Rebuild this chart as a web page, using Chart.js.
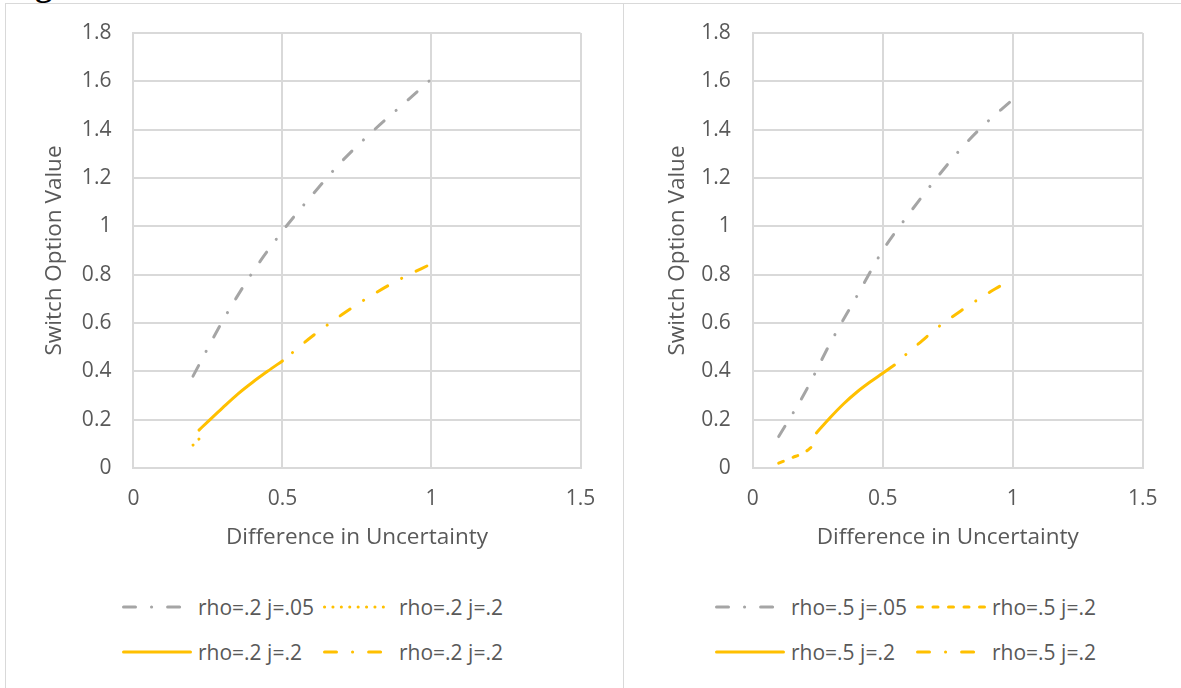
<!DOCTYPE html>
<html>
<head>
<meta charset="utf-8">
<script src="https://cdn.jsdelivr.net/npm/chart.js@4.4.0/dist/chart.umd.min.js"></script>
<style>
html,body{margin:0;padding:0;background:#fff;width:1181px;height:688px;overflow:hidden;position:relative;font-family:'Open Sans',sans-serif;}
.panel{position:absolute;top:3px;height:720px;border:1px solid #d9d9d9;box-sizing:border-box;}
#p1{left:5px;width:619px;}
#p2{left:623px;width:620px;}
canvas{position:absolute;}
#c1{left:6px;top:4px;}
#c2{left:625px;top:4px;}
.leg{position:absolute;display:flex;align-items:center;height:30px;color:#595959;font-size:21px;white-space:nowrap;}
.leg svg{display:block;margin-right:6px;}
#cap{position:absolute;left:5px;top:0;width:200px;height:3px;overflow:hidden;}
#cap span{position:absolute;left:0;top:-32px;font:bold 34px/34px 'Liberation Serif',serif;color:#000;}
</style>
</head>
<body>
<div id="cap"><span>Figure</span></div>
<div class="panel" id="p1"></div>
<div class="panel" id="p2"></div>
<canvas id="c1" width="616" height="580"></canvas>
<canvas id="c2" width="555" height="580"></canvas>
<div id="legends"></div>
<script>
// ---- tick labels & titles ----
const xTickLabels = ['0', '0.5', '1', '1.5'];
const yTickLabels = ['0', '0.2', '0.4', '0.6', '0.8', '1', '1.2', '1.4', '1.6', '1.8'];
const xTitle = 'Difference in Uncertainty';
const yTitle = 'Switch Option Value';

// ---- left chart (rho = .2) ----
const leftLabels = ['rho=.2 j=.05', 'rho=.2 j=.2', 'rho=.2 j=.2', 'rho=.2 j=.2'];
const leftGrayX   = [0.2, 0.3, 0.4, 0.5, 0.6, 0.7, 0.8, 0.9, 1.0];
const leftGrayY   = [0.38, 0.61, 0.81, 0.98, 1.13, 1.27, 1.39, 1.50, 1.61];
const leftDotX    = [0.2, 0.22];
const leftDotY    = [0.095, 0.12];
const leftSolidX  = [0.22, 0.25, 0.3, 0.35, 0.4, 0.45, 0.5];
const leftSolidY  = [0.157, 0.192, 0.25, 0.306, 0.355, 0.40, 0.443];
const leftDashDotX = [0.5, 0.6, 0.7, 0.8, 0.9, 1.0];
const leftDashDotY = [0.443, 0.545, 0.635, 0.715, 0.785, 0.845];

// ---- right chart (rho = .5) ----
const rightLabels = ['rho=.5 j=.05', 'rho=.5 j=.2', 'rho=.5 j=.2', 'rho=.5 j=.2'];
const rightGrayX   = [0.1, 0.2, 0.3, 0.4, 0.5, 0.6, 0.7, 0.8, 0.9, 0.99];
const rightGrayY   = [0.13, 0.31, 0.52, 0.71, 0.90, 1.05, 1.19, 1.32, 1.43, 1.515];
const rightDashX   = [0.1, 0.15, 0.2, 0.23];
const rightDashY   = [0.02, 0.042, 0.065, 0.09];
const rightSolidX  = [0.245, 0.3, 0.35, 0.4, 0.45, 0.5, 0.545];
const rightSolidY  = [0.145, 0.211, 0.266, 0.3135, 0.3545, 0.392, 0.426];
const rightDashDotX = [0.545, 0.6, 0.65, 0.7, 0.8, 0.9, 0.95];
const rightDashDotY = [0.426, 0.48, 0.525, 0.572, 0.65, 0.72, 0.752];

// ---- styles ----
const GRAY = '#a5a5a5', GOLD = '#ffc000', TXT = '#595959', GRID = '#d9d9d9';
const DASHDOT = [12, 16, 0.1, 16];
const DOTTED = [0.1, 8.3];
const DASHED = [5, 10.5];

function pts(xs, ys) { return xs.map((x, i) => ({ x: x, y: ys[i] })); }
function ds(label, xs, ys, color, dash, offset) {
  return {
    label: label, data: pts(xs, ys), showLine: true, borderColor: color, backgroundColor: color,
    borderWidth: 3, borderDash: dash, borderDashOffset: offset || 0, borderCapStyle: 'round', borderJoinStyle: 'round',
    pointRadius: 0, fill: false, cubicInterpolationMode: 'monotone'
  };
}

function makeChart(id, datasets, cfg) {
  const font = (s) => ({ family: 'Open Sans', size: s });
  return new Chart(document.getElementById(id), {
    type: 'scatter',
    data: { datasets: datasets },
    options: {
      responsive: false, animation: false, events: [],
      layout: { padding: { top: 29, right: cfg.padRight, bottom: 0, left: 0 } },
      plugins: { legend: { display: false }, tooltip: { enabled: false } },
      scales: {
        x: {
          type: 'linear', min: 0, max: 1.5,
          ticks: { stepSize: 0.5, padding: 0, color: TXT, font: font(21), callback: (v, i) => xTickLabels[i] },
          grid: { color: GRID, lineWidth: 2, drawTicks: true, tickLength: 18, tickColor: 'rgba(0,0,0,0)' },
          border: { color: GRID, width: 2 },
          title: { display: true, text: xTitle, color: TXT, font: font(22.5), padding: { top: 0, bottom: 32.5 } },
          afterFit: (s) => { s.height = 116; }
        },
        y: {
          type: 'linear', min: 0, max: 1.8,
          ticks: { stepSize: 0.2, padding: 0, color: TXT, font: font(21), callback: (v, i) => yTickLabels[i] },
          grid: { color: GRID, lineWidth: 2, drawTicks: true, tickLength: 22, tickColor: 'rgba(0,0,0,0)' },
          border: { color: GRID, width: 2 },
          title: { display: true, text: yTitle, color: TXT, font: font(22.5), padding: { top: cfg.yTitlePad, bottom: 0 } },
          afterFit: (s) => { s.width = cfg.yWidth; }
        }
      }
    }
  });
}

const leftChart = makeChart('c1', [
  ds(leftLabels[0], leftGrayX, leftGrayY, GRAY, DASHDOT),
  ds(leftLabels[1], leftDotX, leftDotY, GOLD, DOTTED),
  ds(leftLabels[2], leftSolidX, leftSolidY, GOLD, []),
  ds(leftLabels[3], leftDashDotX, leftDashDotY, GOLD, DASHDOT, 15)
], { padRight: 41.5, yWidth: 127.4, yTitlePad: 35.5 });

const rightChart = makeChart('c2', [
  ds(rightLabels[0], rightGrayX, rightGrayY, GRAY, DASHDOT),
  ds(rightLabels[1], rightDashX, rightDashY, GOLD, DASHED),
  ds(rightLabels[2], rightSolidX, rightSolidY, GOLD, []),
  ds(rightLabels[3], rightDashDotX, rightDashDotY, GOLD, DASHDOT, 12.6)
], { padRight: 37.3, yWidth: 127.7, yTitlePad: 39.5 });

// ---- legends built from the charts' datasets ----
function buildLegend(chart, baseX, rowYs) {
  const host = document.getElementById('legends');
  chart.data.datasets.forEach((d, i) => {
    const col = i % 2, row = Math.floor(i / 2);
    const div = document.createElement('div');
    div.className = 'leg';
    div.style.left = (baseX + col * 201) + 'px';
    div.style.top = (rowYs[row] - 15) + 'px';
    const dash = (d.borderDash && d.borderDash.length) ? d.borderDash.join(' ') : 'none';
    div.innerHTML = '<svg width="70" height="10"><line x1="1.5" y1="5" x2="68.5" y2="5" stroke="' + d.borderColor +
      '" stroke-width="3" stroke-linecap="round" stroke-dasharray="' + dash + '"/></svg><span></span>';
    div.querySelector('span').textContent = d.label;
    host.appendChild(div);
  });
}
buildLegend(leftChart, 122, [607, 652]);
buildLegend(rightChart, 715, [607, 652]);
</script>
</body>
</html>
